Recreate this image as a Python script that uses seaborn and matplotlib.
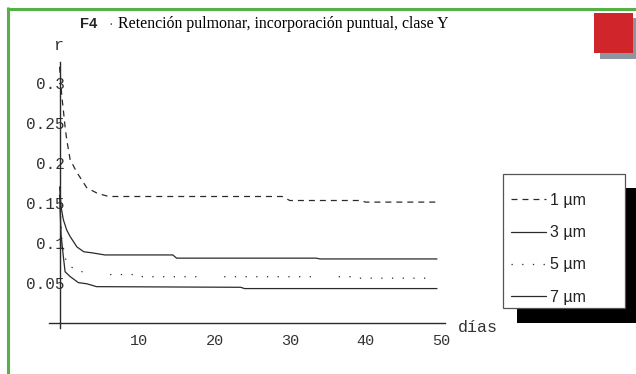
import matplotlib
matplotlib.use("Agg")
import numpy as np
import pandas as pd
import seaborn as sns
import matplotlib.pyplot as plt
from matplotlib.lines import Line2D
from matplotlib.patches import Rectangle
from matplotlib import transforms

# Pulmonary retention r(t) after a single intake, inhalation class Y,
# one curve per particle size (AMAD).
dias_1 = [0, 0.3, 0.5, 0.73, 0.95, 1.4, 2.3, 3.6, 5.0, 6.5, 29.5, 30.5, 40.0, 40.5, 50]
r_1 = [0.320, 0.283, 0.266, 0.245, 0.229, 0.204, 0.188, 0.169, 0.162, 0.158,
       0.158, 0.153, 0.153, 0.151, 0.151]

dias_3 = [0, 0.2, 0.5, 0.95, 1.4, 2.3, 3.2, 4.4, 6.0, 15.0, 15.5, 34.0, 34.5, 50]
r_3 = [0.170, 0.145, 0.129, 0.116, 0.108, 0.095, 0.089, 0.0875, 0.085, 0.085,
       0.081, 0.081, 0.080, 0.080]

dias_5 = [0, 0.3, 0.73, 1.5, 3.0, 5.5, 10.5, 11.0, 39.0, 39.5, 50]
r_5 = [0.160, 0.104, 0.081, 0.070, 0.064, 0.0605, 0.0605, 0.0578, 0.0578, 0.056, 0.056]

dias_7 = [0, 0.2, 0.5, 0.73, 1.4, 2.5, 3.6, 4.9, 24.0, 24.5, 50]
r_7 = [0.160, 0.110, 0.083, 0.064, 0.058, 0.0504, 0.049, 0.0454, 0.0446, 0.043, 0.043]

series = ["1 µm", "3 µm", "5 µm", "7 µm"]
x_ticks = [10, 20, 30, 40, 50]
y_ticks = [0.05, 0.1, 0.15, 0.2, 0.25, 0.3]
y_tick_labels = ["0.05", "0.1", "0.15", "0.2", "0.25", "0.3"]

titulo_id = "F4"
titulo = "Retención pulmonar, incorporación puntual, clase Y"

df = pd.concat([
    pd.DataFrame({"dia": d, "r": r, "serie": s})
    for d, r, s in zip([dias_1, dias_3, dias_5, dias_7],
                       [r_1, r_3, r_5, r_7], series)
], ignore_index=True)

sns.set_style("white")
plt.rcParams["lines.scale_dashes"] = False
plt.rcParams["font.family"] = ["Liberation Mono", "DejaVu Sans"]

INK = "#2a2a2a"
dash_1 = (4.3, 3.6)
dot_5 = tuple([0.9, 6.8] * 8 + [0.9, 20.0])
dashes = {"1 µm": dash_1, "3 µm": "", "5 µm": dot_5, "7 µm": ""}

W, H = 636, 374
fig = plt.figure(figsize=(W / 100, H / 100), dpi=100)
fig.patch.set_facecolor("white")

# axes box in pixels: x from 49 to 445, y from 62 to 328 (top-down)
ax = fig.add_axes([49 / W, (H - 328) / H, (445 - 49) / W, (328 - 62) / H])
ax.set_facecolor("none")

sns.lineplot(data=df, x="dia", y="r", hue="serie", style="serie",
             palette={s: INK for s in series}, dashes=dashes,
             estimator=None, sort=False, linewidth=0.9, legend=False, ax=ax)

ax.set_xlim(-1.4, 51.06)
ax.set_ylim(-0.00625, 0.326)

for side in ("top", "right"):
    ax.spines[side].set_visible(False)
for side in ("left", "bottom"):
    ax.spines[side].set_position(("data", 0))
    ax.spines[side].set_color(INK)
    ax.spines[side].set_linewidth(1.0)

ax.set_xticks(x_ticks)
ax.set_xticks(np.arange(2, 51, 2), minor=True)
ax.set_yticks(y_ticks)
ax.set_yticklabels(y_tick_labels)
ax.set_yticks(np.arange(0.01, 0.32, 0.01), minor=True)
ax.set_xlabel("")
ax.set_ylabel("")

ax.tick_params(axis="x", which="major", direction="in", length=3.2, width=0.9,
               color=INK, pad=8, labelsize=11, labelcolor="#333333")
ax.tick_params(axis="x", which="minor", direction="in", length=1.8, width=0.8, color=INK)
ax.tick_params(axis="y", which="major", direction="in", length=3.2, width=0.9,
               color=INK, pad=-3.5, labelsize=11.5, labelcolor="#333333")
ax.tick_params(axis="y", which="minor", direction="in", length=1.8, width=0.8, color=INK)

shift = transforms.ScaledTranslation(4 / 100, 0, fig.dpi_scale_trans)
for lbl in ax.get_xticklabels():
    lbl.set_transform(lbl.get_transform() + shift)

# axis names
fig.text(58 / W, 1 - 45 / H, "r", ha="center", va="center", fontsize=12, color="#333333")
fig.text(458 / W, 1 - 327 / H, "días", ha="left", va="center", fontsize=12, color="#333333")

# title
fig.text(80 / W, 1 - 24 / H, titulo_id, ha="left", va="center",
         fontsize=10.5, fontweight="bold", family=["Liberation Sans", "DejaVu Sans"])
fig.text(108 / W, 1 - 24 / H, "·", ha="left", va="center",
         fontsize=10, family=["Liberation Sans", "DejaVu Sans"], color="#555555")
t = fig.text(118 / W, 1 - 24 / H, titulo, ha="left", va="center",
             fontsize=11, family=["Liberation Serif", "DejaVu Serif"], color="black")
fig.canvas.draw()
w_px = t.get_window_extent().width
t.set_fontsize(11 * 332 / w_px)

# green frame
fig.add_artist(Line2D([8 / W, 1], [1 - 8.5 / H] * 2, color="#55b045", lw=2.2,
                      solid_capstyle="butt"))
fig.add_artist(Line2D([8 / W] * 2, [0, 1 - 7.4 / H], color="#55b045", lw=2.2,
                      solid_capstyle="butt"))

# red mark with grey shadow
fig.add_artist(Rectangle((600 / W, 1 - 59 / H), 36 / W, 41 / H,
                         facecolor="#8d95a0", edgecolor="none"))
fig.add_artist(Rectangle((594 / W, 1 - 53 / H), 39 / W, 40 / H,
                         facecolor="#d0252b", edgecolor="none"))

# legend panel with black drop shadow
fig.add_artist(Rectangle((517 / W, 1 - 323 / H), (W - 517) / W, 135 / H,
                         facecolor="black", edgecolor="none"))
fig.add_artist(Rectangle((503 / W, 1 - 308 / H), 122 / W, 134 / H,
                         facecolor="white", edgecolor="#555555", lw=0.9))

handles = [
    Line2D([], [], color=INK, lw=0.9, dashes=dash_1),
    Line2D([], [], color=INK, lw=0.9),
    Line2D([], [], color=INK, lw=0.9, dashes=(0.9, 6.8)),
    Line2D([], [], color=INK, lw=0.9),
]
leg = fig.legend(handles, series, loc="upper left",
                 bbox_to_anchor=(511 / W, 1 - 193 / H),
                 frameon=False, borderpad=0, borderaxespad=0,
                 handlelength=2.2, handletextpad=0.25, labelspacing=1.08,
                 prop={"family": ["Liberation Sans", "DejaVu Sans"], "size": 11.5})
for txt in leg.get_texts():
    txt.set_color("#222222")

fig.savefig("out.png", dpi=100, facecolor="white")
